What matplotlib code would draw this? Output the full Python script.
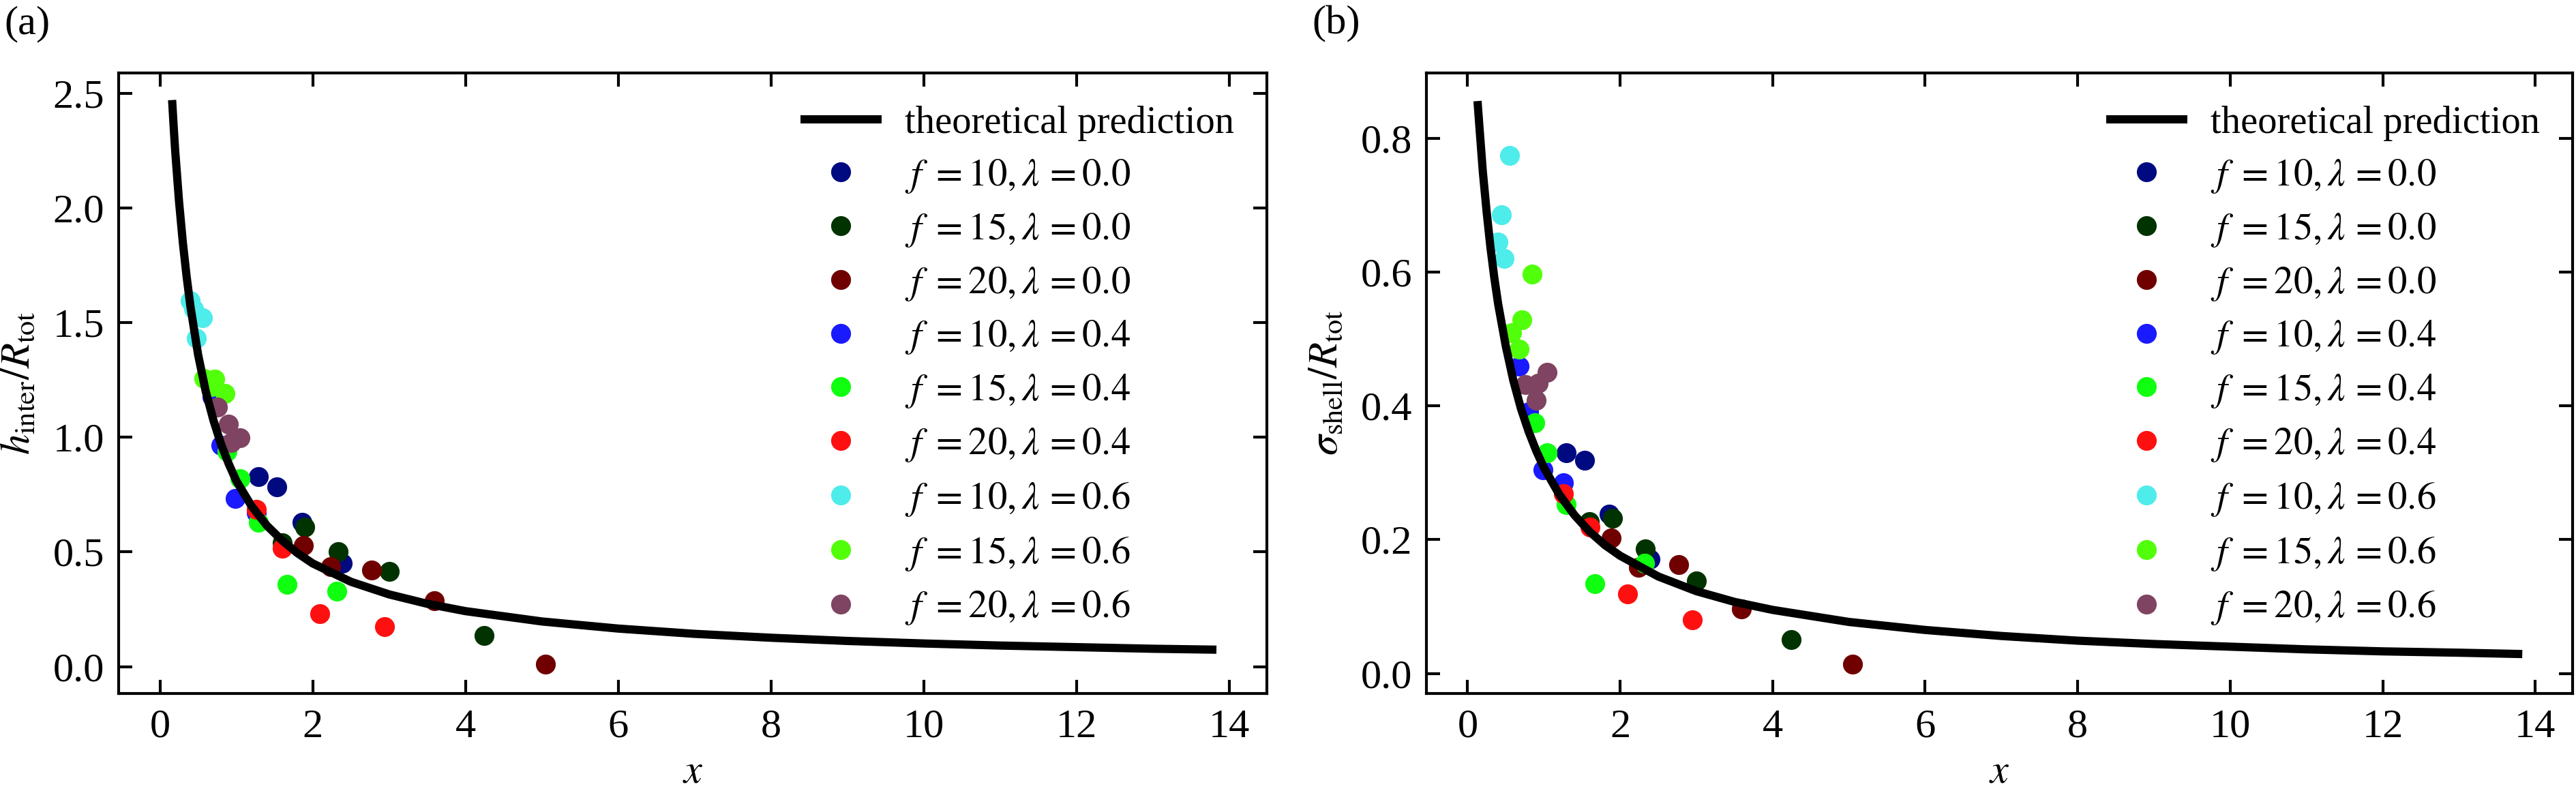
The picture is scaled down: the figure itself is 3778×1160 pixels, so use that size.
import matplotlib
matplotlib.use("Agg")
import matplotlib.pyplot as plt

plt.rcParams['font.family'] = ['Liberation Serif', 'DejaVu Serif']
plt.rcParams['mathtext.fontset'] = 'stix'

# ---------------- data ----------------
series_labels = [r'$f\ = 10, \lambda\, = 0.0$', r'$f\ = 15, \lambda\, = 0.0$', r'$f\ = 20, \lambda\, = 0.0$',
                 r'$f\ = 10, \lambda\, = 0.4$', r'$f\ = 15, \lambda\, = 0.4$', r'$f\ = 20, \lambda\, = 0.4$',
                 r'$f\ = 10, \lambda\, = 0.6$', r'$f\ = 15, \lambda\, = 0.6$', r'$f\ = 20, \lambda\, = 0.6$']
series_colors = ['#000a80', '#013300', '#700000', '#1a1aff', '#10ff10', '#ff1010',
                 '#4eecea', '#52ff0a', '#7f4461']

x_f10_l00 = [1.29, 1.53, 1.86, 2.39]
x_f15_l00 = [1.60, 1.90, 2.33, 3.00, 4.24]
x_f20_l00 = [1.88, 2.24, 2.77, 3.59, 5.05]
x_f10_l04 = [0.68, 0.80, 0.99, 1.26]
x_f15_l04 = [0.88, 1.045, 1.29, 1.665, 2.32]
x_f20_l04 = [1.26, 1.605, 2.095, 2.945]
x_f10_l06 = [0.40, 0.445, 0.555, 0.478]
x_f15_l06 = [0.575, 0.674, 0.714, 0.850]
x_f20_l06 = [0.757, 0.897, 0.929, 1.046]

h_f10_l00 = [0.829, 0.783, 0.630, 0.451]
h_f15_l00 = [0.539, 0.607, 0.502, 0.414, 0.135]
h_f20_l00 = [0.528, 0.437, 0.420, 0.286, 0.010]
h_f10_l04 = [1.175, 0.965, 0.732, 0.670]
h_f15_l04 = [0.937, 0.820, 0.630, 0.359, 0.329]
h_f20_l04 = [0.687, 0.516, 0.230, 0.175]
h_f10_l06 = [1.596, 1.560, 1.522, 1.433]
h_f15_l06 = [1.255, 1.220, 1.252, 1.190]
h_f20_l06 = [1.130, 1.056, 0.977, 0.999]

s_f10_l00 = [0.330, 0.319, 0.238, 0.171]
s_f15_l00 = [0.227, 0.232, 0.186, 0.138, 0.051]
s_f20_l00 = [0.203, 0.159, 0.163, 0.096, 0.014]
s_f10_l04 = [0.460, 0.391, 0.304, 0.285]
s_f15_l04 = [0.375, 0.330, 0.252, 0.134, 0.165]
s_f20_l04 = [0.269, 0.219, 0.119, 0.080]
s_f10_l06 = [0.645, 0.686, 0.775, 0.621]
s_f15_l06 = [0.509, 0.485, 0.529, 0.597]
s_f20_l06 = [0.432, 0.408, 0.434, 0.450]

curve_x_a = [0.16, 0.18, 0.2, 0.25, 0.3, 0.35, 0.4, 0.5, 0.6, 0.7, 0.8, 0.9, 1.0, 1.2, 1.4,
             1.6, 1.8, 2.0, 2.5, 3.0, 3.5, 4.0, 5.0, 6.0, 7.0, 8.0, 9.0, 10.0, 11.0, 12.0, 13.0, 13.83]
curve_y_a = [2.47, 2.355, 2.25, 2.03, 1.85, 1.70, 1.57, 1.36, 1.20, 1.075, 0.97, 0.885, 0.81, 0.70, 0.615,
             0.55, 0.495, 0.45, 0.37, 0.315, 0.274, 0.242, 0.197, 0.166, 0.143, 0.126, 0.112, 0.101, 0.092,
             0.085, 0.078, 0.074]
curve_x_b = [0.13, 0.16, 0.2, 0.25, 0.3, 0.35, 0.4, 0.5, 0.6, 0.7, 0.8, 0.9, 1.0, 1.2, 1.4, 1.6,
             1.8, 2.0, 2.5, 3.0, 3.5, 4.0, 5.0, 6.0, 7.0, 8.0, 9.0, 10.0, 11.0, 12.0, 13.0, 13.83]
curve_y_b = [0.856, 0.81, 0.75, 0.69, 0.637, 0.592, 0.553, 0.49, 0.438, 0.396, 0.362, 0.333, 0.308,
             0.268, 0.237, 0.212, 0.192, 0.176, 0.145, 0.123, 0.107, 0.095, 0.077, 0.065, 0.056, 0.049,
             0.044, 0.040, 0.036, 0.033, 0.031, 0.029]

x_ticks = [0, 2, 4, 6, 8, 10, 12, 14]
yticks_a = [0.0, 0.5, 1.0, 1.5, 2.0, 2.5]
yticks_b = [0.0, 0.2, 0.4, 0.6, 0.8]

xs = [x_f10_l00, x_f15_l00, x_f20_l00, x_f10_l04, x_f15_l04, x_f20_l04, x_f10_l06, x_f15_l06, x_f20_l06]
hs = [h_f10_l00, h_f15_l00, h_f20_l00, h_f10_l04, h_f15_l04, h_f20_l04, h_f10_l06, h_f15_l06, h_f20_l06]
ss = [s_f10_l00, s_f15_l00, s_f20_l00, s_f10_l04, s_f15_l04, s_f20_l04, s_f10_l06, s_f15_l06, s_f20_l06]

# ---------------- figure ----------------
W, H = 3779, 1160
fig = plt.figure(figsize=(W / 300, H / 300), dpi=300)

def make_axes(left_px, right_px):
    top_px, bot_px = 107, 1017
    return fig.add_axes([left_px / W, 1 - bot_px / H, (right_px - left_px) / W, (bot_px - top_px) / H])

ax_a = make_axes(174, 1858)
ax_b = make_axes(2092, 3773)

def draw(ax, ys, cx, cy, ylim, yticks, ylabel):
    handles = []
    for x, y, c, lab in zip(xs, ys, series_colors, series_labels):
        h, = ax.plot(x, y, 'o', ms=7, mew=0, color=c, label=lab, zorder=2)
        handles.append(h)
    line, = ax.plot(cx, cy, '-', color='black', lw=2.9, solid_capstyle='butt',
                    label='theoretical prediction', zorder=3)
    ax.set_xlim(-0.54, 14.49)
    ax.set_ylim(*ylim)
    ax.set_xticks(x_ticks)
    ax.set_xticklabels([str(v) for v in x_ticks])
    ax.set_yticks(yticks)
    ax.set_yticklabels([f'{v:.1f}' for v in yticks])
    ax.tick_params(direction='in', top=True, right=True, length=4.8, width=1.0, labelsize=14.5)
    ax.tick_params(axis='x', pad=5.5)
    ax.tick_params(axis='y', pad=5)
    for lab in ax.get_xticklabels() + ax.get_yticklabels():
        lab.set_family(['Liberation Serif'])
    for sp in ax.spines.values():
        sp.set_linewidth(1.0)
    ax.set_xlabel(r'$x$', fontsize=14.5)
    ax.xaxis.set_label_coords(0.5, -0.098)
    ax.set_ylabel(ylabel, fontsize=14.5)
    ax.yaxis.set_label_coords(-0.070, 0.5)
    ax.legend(handles=[line] + handles, loc='upper right', bbox_to_anchor=(1, 1),
              frameon=False, fontsize=13.6, handlelength=2.1, handletextpad=0.6,
              labelspacing=0.42, borderaxespad=0.35, borderpad=0.5, numpoints=1)

draw(ax_a, hs, curve_x_a, curve_y_a, (-0.117, 2.588), yticks_a,
     r'$h_{\mathrm{inter}}/R_{\mathrm{tot}}$')
draw(ax_b, ss, curve_x_b, curve_y_b, (-0.030, 0.898), yticks_b,
     r'$\sigma_{\mathrm{shell}}/R_{\mathrm{tot}}$')

fig.text(6 / W, 1 - 8 / H, '(a)', fontsize=14.5, ha='left', va='top')
fig.text(1924 / W, 1 - 8 / H, '(b)', fontsize=14.5, ha='left', va='top')

fig.savefig('out.png', dpi=300, facecolor='white')
